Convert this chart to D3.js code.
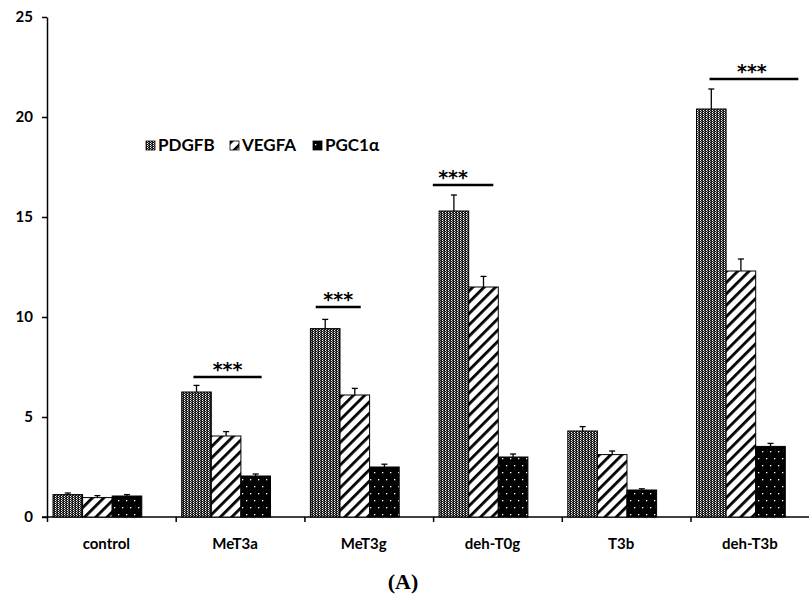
<!DOCTYPE html>
<html>
<head>
<meta charset="utf-8">
<script src="https://cdn.jsdelivr.net/npm/d3@7"></script>
<style>
  html, body { margin: 0; padding: 0; background: #fff; }
  svg { display: block; }
  text { font-family: Lato, "Open Sans", sans-serif; font-weight: 700; fill: #000; }
</style>
</head>
<body>
<svg id="chart" width="809" height="600"></svg>
<script>
// Relative expression by treatment group
const categories = ["control", "MeT3a", "MeT3g", "deh-T0g", "T3b", "deh-T3b"];
const seriesNames = ["PDGFB", "VEGFA", "PGC1\u03b1"];

const pdgfb = [1.12, 6.25, 9.42, 15.3, 4.3, 20.4];
const vegfa = [0.97, 4.05, 6.1, 11.5, 3.12, 12.3];
const pgc1a = [1.05, 2.05, 2.5, 3.0, 1.35, 3.53];

const pdgfbErr = [0.08, 0.33, 0.46, 0.8, 0.22, 1.0];
const vegfaErr = [0.1, 0.22, 0.33, 0.53, 0.18, 0.6];
const pgc1aErr = [0.07, 0.1, 0.14, 0.15, 0.06, 0.15];

const yTicks = [0, 5, 10, 15, 20, 25];

// significance brackets: group and level (data units)
const sigGroups = ["MeT3a", "MeT3g", "deh-T0g", "deh-T3b"];
const sigLevels = [7.0, 10.5, 16.6, 21.9];
const sigLabel = "***";

const series = [
  { name: seriesNames[0], values: pdgfb, err: pdgfbErr, fill: "url(#patDots)" },
  { name: seriesNames[1], values: vegfa, err: vegfaErr, fill: "url(#patHatch)" },
  { name: seriesNames[2], values: pgc1a, err: pgc1aErr, fill: "url(#patSparse)" }
];

const svg = d3.select("#chart");
const defs = svg.append("defs");

// fine dotted grey fill
const p1 = defs.append("pattern").attr("id", "patDots")
  .attr("patternUnits", "userSpaceOnUse").attr("width", 3).attr("height", 2);
p1.append("rect").attr("width", 3).attr("height", 2).attr("fill", "#1a1a1a");
p1.append("rect").attr("x", 1).attr("y", 0).attr("width", 1).attr("height", 1).attr("fill", "#fff");
p1.append("rect").attr("x", 2).attr("y", 1).attr("width", 1).attr("height", 1).attr("fill", "#9a9a9a");

// diagonal hatching
const p2 = defs.append("pattern").attr("id", "patHatch")
  .attr("patternUnits", "userSpaceOnUse").attr("width", 8).attr("height", 8)
  .attr("patternTransform", "rotate(45)");
p2.append("rect").attr("width", 8).attr("height", 8).attr("fill", "#fff");
p2.append("rect").attr("x", 0).attr("y", 0).attr("width", 2.8).attr("height", 8).attr("fill", "#000");

// black with staggered white dots
const p3 = defs.append("pattern").attr("id", "patSparse")
  .attr("patternUnits", "userSpaceOnUse").attr("width", 16).attr("height", 14);
p3.append("rect").attr("width", 16).attr("height", 14).attr("fill", "#000");
[[2, 3], [10, 3], [6, 10], [14, 10]].forEach(([px, py]) =>
  p3.append("rect").attr("x", px).attr("y", py).attr("width", 1.3).attr("height", 1.3).attr("fill", "#fff"));

// scales
const x = d3.scaleBand().domain(categories).range([48, 48 + 6 * 128.7]).padding(0);
const xs = d3.scaleBand().domain(seriesNames).range([5, 5 + 3 * 29.6]).padding(0);
const y = d3.scaleLinear().domain([0, 25]).range([517, 17]);

// y axis
const yAxis = d3.axisLeft(y).tickValues(yTicks).tickSize(5).tickPadding(9).tickSizeOuter(0);
const gy = svg.append("g").attr("transform", "translate(47,0)").call(yAxis);
gy.select(".domain").attr("stroke", "#000").attr("stroke-width", 1.5);
gy.selectAll(".tick line").attr("stroke", "#000").attr("stroke-width", 1.5);
gy.selectAll(".tick text").style("font-size", "15px").style("font-family", "Lato, sans-serif").style("font-weight", 700).attr("fill", "#000");

// x axis: tick marks at group boundaries
const gx = svg.append("g");
gx.append("line").attr("x1", 42).attr("x2", 809).attr("y1", y(0)).attr("y2", y(0))
  .attr("stroke", "#000").attr("stroke-width", 1.5);
gx.selectAll("line.bound").data(categories).join("line").attr("class", "bound")
  .attr("x1", d => x(d) - 0.5).attr("x2", d => x(d) - 0.5)
  .attr("y1", y(0)).attr("y2", y(0) + 5)
  .attr("stroke", "#000").attr("stroke-width", 1.5);
gx.selectAll("text").data(categories).join("text")
  .attr("x", d => x(d) + x.bandwidth() / 2 - 6)
  .attr("y", 549)
  .attr("text-anchor", "middle")
  .style("font-size", "15px")
  .text(d => d);

// bars
const groups = svg.append("g").selectAll("g").data(series).join("g");
groups.selectAll("rect").data(s => categories.map((c, i) => ({ c, v: s.values[i], e: s.err[i], s })))
  .join("rect")
  .attr("x", d => x(d.c) + xs(d.s.name))
  .attr("y", d => y(d.v))
  .attr("width", xs.bandwidth())
  .attr("height", d => y(0) - y(d.v))
  .attr("fill", d => d.s.fill)
  .attr("stroke", "#000").attr("stroke-width", 1);

// error bars (upper arm)
const eg = svg.append("g").attr("stroke", "#000").attr("stroke-width", 1.3);
series.forEach(s => {
  categories.forEach((c, i) => {
    const cx = x(c) + xs(s.name) + xs.bandwidth() / 2;
    eg.append("line").attr("x1", cx).attr("x2", cx).attr("y1", y(s.values[i])).attr("y2", y(s.values[i] + s.err[i]));
    eg.append("line").attr("x1", cx - 3).attr("x2", cx + 3).attr("y1", y(s.values[i] + s.err[i])).attr("y2", y(s.values[i] + s.err[i]));
  });
});

// significance markers
const sigSpan = [[0.13, 0.66], [0.08, 0.43], [-0.01, 0.46], [0.14, 0.83]];
const sigTextShift = [0, 0, -10, -2];
const sg = svg.append("g");
sigGroups.forEach((g, i) => {
  const step = x.step();
  const x0 = x(g) + sigSpan[i][0] * step, x1 = x(g) + sigSpan[i][1] * step;
  sg.append("line").attr("x1", x0).attr("x2", x1).attr("y1", y(sigLevels[i])).attr("y2", y(sigLevels[i]))
    .attr("stroke", "#000").attr("stroke-width", 2.6);
  sg.append("text").attr("x", (x0 + x1) / 2 + sigTextShift[i]).attr("y", y(sigLevels[i]) - 1)
    .attr("text-anchor", "middle")
    .style("font-family", "'DejaVu Sans', sans-serif").style("font-size", "19px")
    .text(sigLabel);
});

// legend
const legend = svg.append("g").attr("transform", "translate(146,141)");
const legX = [0, 84, 167];
series.forEach((s, i) => {
  const lg = legend.append("g").attr("transform", `translate(${legX[i]},0)`);
  lg.append("rect").attr("width", 9).attr("height", 9).attr("fill", s.fill).attr("stroke", "#000").attr("stroke-width", 0.8);
  lg.append("text").attr("x", 12).attr("y", 10).style("font-size", "17px").text(s.name);
});

// panel label
svg.append("text").attr("x", 403).attr("y", 589).attr("text-anchor", "middle")
  .style("font-family", "'Liberation Serif', 'DejaVu Serif', serif").style("font-size", "22px").style("font-weight", 700)
  .text("(A)");
</script>
</body>
</html>
